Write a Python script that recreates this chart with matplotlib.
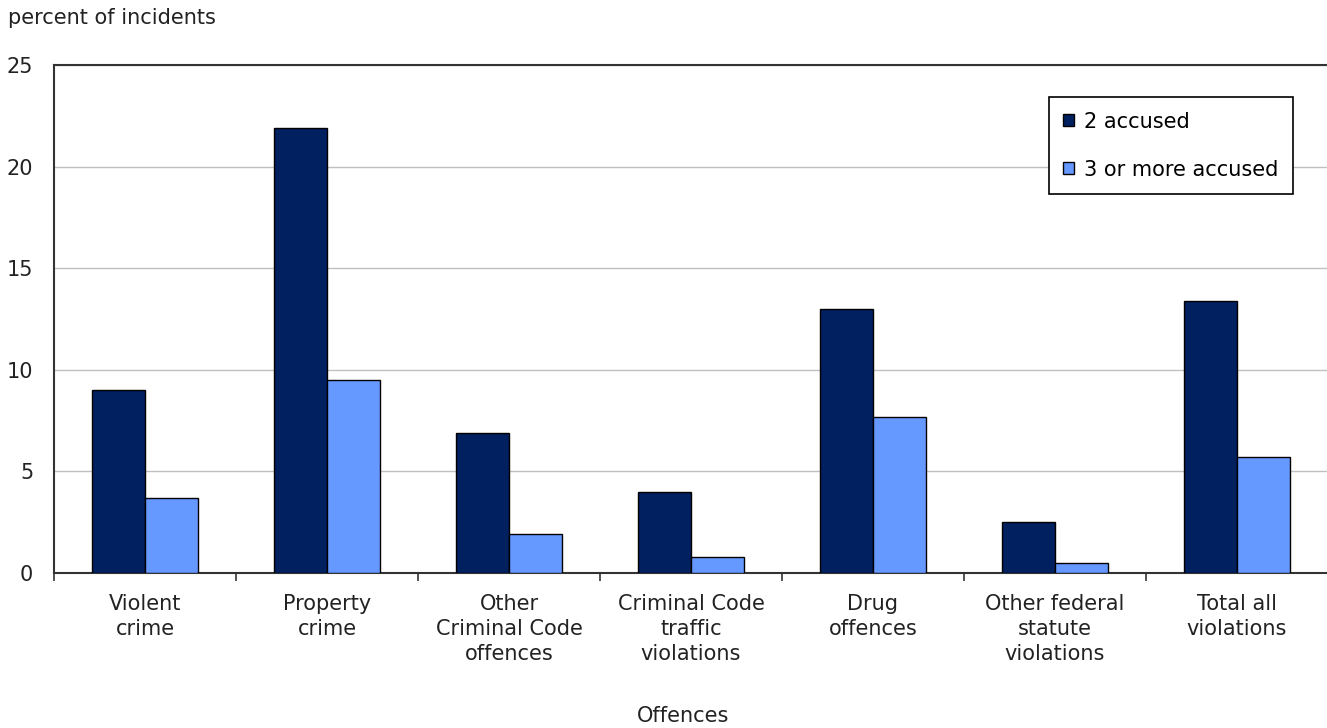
import matplotlib.pyplot as plt
import numpy as np

categories = ["Violent\ncrime", "Property\ncrime", "Other\nCriminal Code\noffences",
              "Criminal Code\ntraffic\nviolations", "Drug\noffences",
              "Other federal\nstatute\nviolations", "Total all\nviolations"]
two_accused = [9.0, 21.9, 6.9, 4.0, 13.0, 2.5, 13.4]
three_plus = [3.7, 9.5, 1.9, 0.8, 7.7, 0.5, 5.7]
yticks = [0, 5, 10, 15, 20, 25]

dark = '#002060'
light = '#6699ff'
fs = 15

fig = plt.figure(figsize=(13.27, 7.28), dpi=100)
ax = fig.add_axes([54/1327, 1-573/728, 1274/1327, 508/728])

x = np.arange(len(categories))
w = 0.29
ax.bar(x - w/2, two_accused, w, color=dark, edgecolor='black', linewidth=1, label='2 accused', zorder=3)
ax.bar(x + w/2, three_plus, w, color=light, edgecolor='black', linewidth=1, label='3 or more accused', zorder=3)

ax.set_xlim(-0.5, len(categories) - 0.5)
ax.set_ylim(0, 25)
ax.set_yticks(yticks)
ax.tick_params(axis='y', length=0, pad=15, labelsize=fs, colors='#222222')
ax.yaxis.grid(True, color='#c0c0c0', linewidth=1)
ax.set_axisbelow(True)

ax.set_xticks(np.arange(len(categories) + 1) - 0.5)
ax.set_xticklabels([])
ax.tick_params(axis='x', length=6, width=1.2, direction='out', color='#333333')
for i, lab in enumerate(categories):
    ax.text(i, -1.05, lab, ha='center', va='top', fontsize=fs, color='#222222',
            linespacing=1.3, transform=ax.transData)

for s in ['left', 'bottom', 'top']:
    ax.spines[s].set_color('#333333')
    ax.spines[s].set_linewidth(1.5)
ax.spines['right'].set_visible(False)

fig.text(8/1327, 1-18/728, 'percent of incidents', ha='left', va='center', fontsize=fs, color='#222222')
fig.text(683/1327, 1-716/728, 'Offences', ha='center', va='center', fontsize=fs, color='#222222')

leg = ax.legend(loc='upper right', bbox_to_anchor=(0.9725, 0.937), fontsize=fs,
                handlelength=0.5, handleheight=0.5, labelspacing=1.35, borderpad=0.7,
                handletextpad=0.5, borderaxespad=0, fancybox=False, framealpha=1, edgecolor='black')
leg.get_frame().set_linewidth(1.2)

plt.savefig('out.png', dpi=100)
